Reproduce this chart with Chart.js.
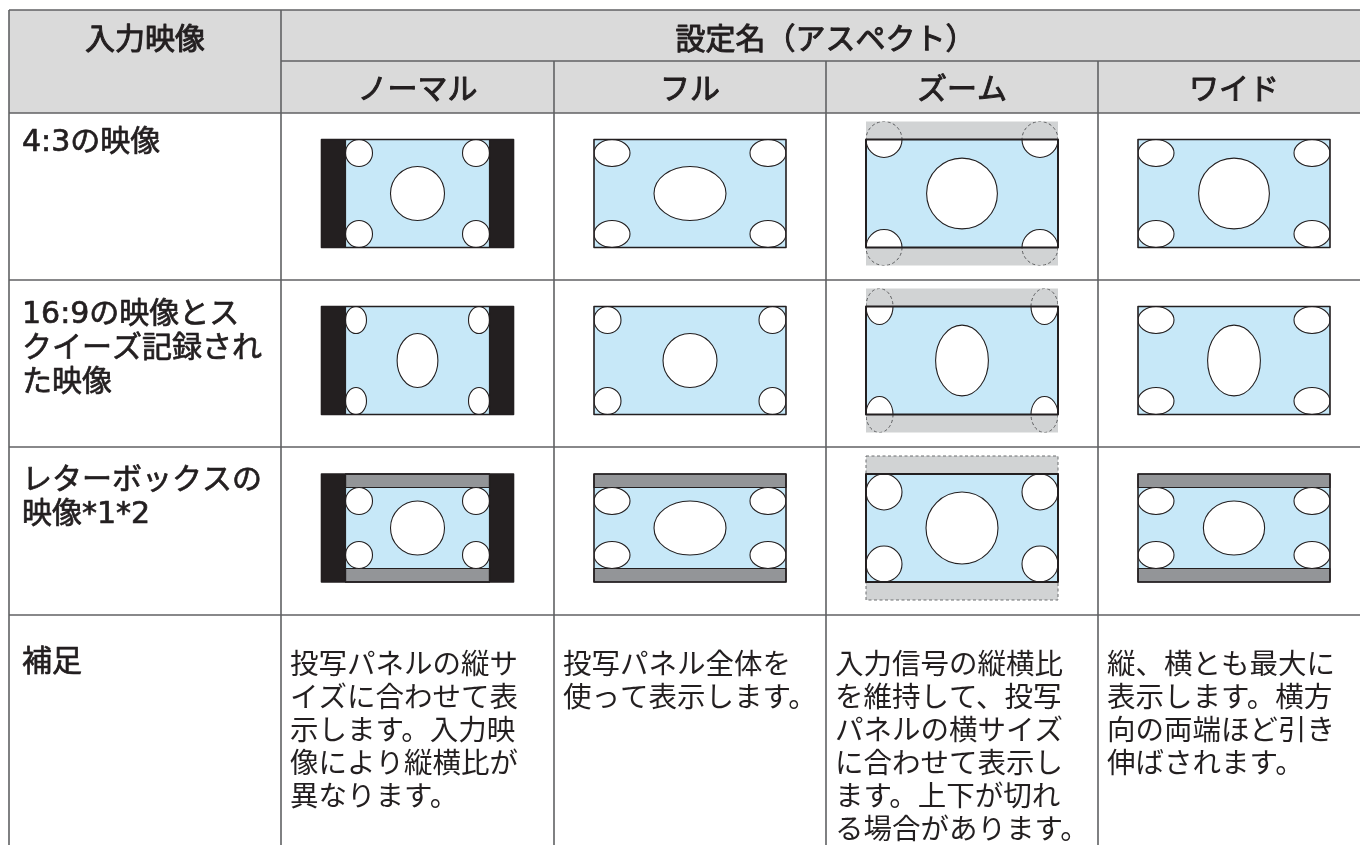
<!DOCTYPE html>
<html lang="ja">
<head>
<meta charset="utf-8">
<title>アスペクト設定</title>
<script src="https://cdn.jsdelivr.net/npm/chart.js@4.4.1/dist/chart.umd.min.js"></script>
<style>
  html, body { margin: 0; padding: 0; background: #fff; }
  #wrap { width: 1360px; height: 845px; overflow: hidden; }
</style>
</head>
<body>
<div id="wrap"><canvas id="aspectChart" width="1360" height="845"></canvas></div>
<script>
const headerInput = '入力映像';
const headerSetting = '設定名（アスペクト）';
const modeNames = ['ノーマル', 'フル', 'ズーム', 'ワイド'];
const inputLabels = [
    ['4:3の映像'],
    ['16:9の映像とス', 'クイーズ記録され', 'た映像'],
    ['レターボックスの', '映像*1*2']
];
const noteLabel = '補足';
const noteLines = [
    ['投写パネルの縦サ', 'イズに合わせて表', '示します。入力映', '像により縦横比が', '異なります。'],
    ['投写パネル全体を', '使って表示します。'],
    ['入力信号の縦横比', 'を維持して、投写', 'パネルの横サイズ', 'に合わせて表示し', 'ます。上下が切れ', 'る場合があります。'],
    ['縦、横とも最大に', '表示します。横方', '向の両端ほど引き', '伸ばされます。']
];

// picture sizes in panel units (panel = 16 x 9); one row per input, one column per mode
const pictureW = [[12, 16, 16, 16], [12, 16, 16, 16], [12, 16, 16, 16]];
const pictureH = [[9, 9, 12, 9], [9, 9, 12, 9], [9, 9, 12, 9]];
const letterboxBand = [[0, 0, 0, 0], [0, 0, 0, 0], [1.125, 1.125, 1.5, 1.125]];
// corner and centre ellipses (width / height in panel units)
const cornerW = [[2.25, 3, 3, 3], [1.75, 2.25, 2.25, 3], [2.25, 3, 3, 3]];
const cornerH = [[2.25, 2.25, 3, 2.25], [2.25, 2.25, 3, 2.25], [2.25, 2.25, 3, 2.25]];
const centerW = [[4.5, 6, 5.9, 5.9], [3.4, 4.5, 4.4, 4.4], [4.5, 6, 6, 5.1]];
const centerH = [[4.5, 4.5, 5.9, 5.9], [4.5, 4.5, 5.9, 5.9], [4.5, 4.5, 6, 4.5]];

// table layout (in chart units = page pixels)
const colEdges = [9, 281, 554, 826, 1098, 1370];
const rowEdges = [10, 61, 113, 280, 447, 615, 900];
const UNIT = 12;

const FONT = '"Noto Sans CJK JP", "Noto Sans", sans-serif';
const LABEL_FONT = '"DejaVu Sans", "Noto Sans CJK JP", sans-serif';
const LINE = '#606163';

function box(cx, cy, w, h) {
    return { l: cx - w / 2, r: cx + w / 2, t: cy - h / 2, b: cy + h / 2 };
}

const tablePlugin = {
    id: 'aspectTable',
    afterDraw(chart) {
        const ctx = chart.ctx;
        const xs = chart.scales.x;
        const ys = chart.scales.y;
        const X = v => xs.getPixelForValue(v);
        const Y = v => ys.getPixelForValue(v);

        function rectPath(b) {
            ctx.rect(X(b.l), Y(b.t), X(b.r) - X(b.l), Y(b.b) - Y(b.t));
        }
        function fillBox(b, color) {
            ctx.beginPath();
            rectPath(b);
            ctx.fillStyle = color;
            ctx.fill();
        }
        function strokeBox(b, color, width, dash) {
            ctx.beginPath();
            rectPath(b);
            ctx.setLineDash(dash || []);
            ctx.strokeStyle = color;
            ctx.lineWidth = width;
            ctx.stroke();
            ctx.setLineDash([]);
        }
        function line(x1, y1, x2, y2) {
            ctx.beginPath();
            ctx.moveTo(X(x1), Y(y1));
            ctx.lineTo(X(x2), Y(y2));
            ctx.strokeStyle = LINE;
            ctx.lineWidth = 1.6;
            ctx.stroke();
        }
        // heavy > 0 thickens the regular face a little (no medium weight installed)
        function text(str, x, cy, size, align, heavy, family) {
            ctx.font = size + 'px ' + (family || FONT);
            ctx.fillStyle = '#231f20';
            ctx.textAlign = align;
            ctx.textBaseline = 'alphabetic';
            ctx.fillText(str, X(x), Y(cy + size * 0.38));
            if (heavy) {
                ctx.strokeStyle = '#231f20';
                ctx.lineWidth = heavy;
                ctx.lineJoin = 'round';
                ctx.strokeText(str, X(x), Y(cy + size * 0.38));
            }
        }
        function ellipsePath(e) {
            ctx.beginPath();
            ctx.ellipse(X(e.x), Y(e.y), Math.abs(X(e.x + e.rx) - X(e.x)), Math.abs(Y(e.y + e.ry) - Y(e.y)), 0, 0, Math.PI * 2);
        }

        function drawDiagram(cx, cy, r, m) {
            const panel = box(cx, cy, 16 * UNIT, 9 * UNIT);
            const pic = box(cx, cy, pictureW[r][m] * UNIT, pictureH[r][m] * UNIT);
            const band = letterboxBand[r][m] * UNIT;
            const content = { l: pic.l, r: pic.r, t: pic.t + band, b: pic.b - band };
            const overflow = pic.b - pic.t > panel.b - panel.t + 0.1;
            const sideBars = pic.r - pic.l < panel.r - panel.l - 0.1;

            if (sideBars) fillBox(panel, '#231f20');
            if (overflow) {
                fillBox(pic, '#d1d3d4');
                if (band > 0) strokeBox(pic, '#6d6e71', 1, [3, 2.5]);
            }
            const visible = {
                l: Math.max(content.l, panel.l), r: Math.min(content.r, panel.r),
                t: Math.max(content.t, panel.t), b: Math.min(content.b, panel.b)
            };
            fillBox(visible, '#c7e8f8');
            if (!overflow && band > 0) {
                const top = { l: pic.l, r: pic.r, t: pic.t, b: content.t };
                const bottom = { l: pic.l, r: pic.r, t: content.b, b: pic.b };
                fillBox(top, '#939598');
                fillBox(bottom, '#939598');
                strokeBox(top, '#231f20', 1.2);
                strokeBox(bottom, '#231f20', 1.2);
            }

            const cw = cornerW[r][m] * UNIT / 2, ch = cornerH[r][m] * UNIT / 2;
            const ellipses = [
                { x: content.l + cw, y: content.t + ch, rx: cw, ry: ch },
                { x: content.r - cw, y: content.t + ch, rx: cw, ry: ch },
                { x: content.l + cw, y: content.b - ch, rx: cw, ry: ch },
                { x: content.r - cw, y: content.b - ch, rx: cw, ry: ch },
                { x: (content.l + content.r) / 2, y: (content.t + content.b) / 2,
                  rx: centerW[r][m] * UNIT / 2, ry: centerH[r][m] * UNIT / 2 }
            ];

            ctx.save();
            ctx.beginPath();
            rectPath(panel);
            ctx.clip();
            ellipses.forEach(e => {
                ellipsePath(e);
                ctx.fillStyle = '#ffffff';
                ctx.fill();
                ctx.strokeStyle = '#231f20';
                ctx.lineWidth = 1.1;
                ctx.stroke();
            });
            ctx.restore();

            if (overflow) {
                ctx.save();
                ctx.beginPath();
                rectPath(pic);
                rectPath(panel);
                ctx.clip('evenodd');
                ctx.setLineDash([3, 2.5]);
                ellipses.forEach(e => {
                    ellipsePath(e);
                    ctx.strokeStyle = '#58595b';
                    ctx.lineWidth = 1;
                    ctx.stroke();
                });
                ctx.restore();
            }

            if (sideBars) strokeBox(pic, '#231f20', 1.2);
            strokeBox(panel, '#231f20', overflow ? 2 : 1.6);
        }

        ctx.save();
        // header background
        fillBox({ l: colEdges[0], r: colEdges[5], t: rowEdges[0], b: rowEdges[2] }, '#dadada');

        // grid lines
        line(colEdges[0], rowEdges[0], colEdges[5], rowEdges[0]);
        line(colEdges[1], rowEdges[1], colEdges[5], rowEdges[1]);
        for (let i = 2; i < 6; i++) line(colEdges[0], rowEdges[i], colEdges[5], rowEdges[i]);
        line(colEdges[0], rowEdges[0], colEdges[0], rowEdges[6]);
        line(colEdges[1], rowEdges[0], colEdges[1], rowEdges[6]);
        for (let c = 2; c < 5; c++) line(colEdges[c], rowEdges[1], colEdges[c], rowEdges[6]);

        // header text
        const mid = i => (colEdges[i] + colEdges[i + 1]) / 2;
        text(headerInput, mid(0), 38, 30, 'center', 1.0);
        text(headerSetting, (colEdges[1] + colEdges[5]) / 2, 38, 30, 'center', 1.0);
        modeNames.forEach((name, m) => text(name, mid(m + 1), 88, 30, 'center', 1.0));

        // input rows
        const labelTop = [140, 312, 478];
        inputLabels.forEach((lines, r) => {
            lines.forEach((s, k) => text(s, colEdges[0] + 13, labelTop[r] + k * 34, 30, 'left', 0.7, LABEL_FONT));
            const cy = (rowEdges[r + 2] + rowEdges[r + 3]) / 2 - 3;
            modeNames.forEach((_, m) => drawDiagram(mid(m + 1), cy, r, m));
        });

        // notes row
        text(noteLabel, colEdges[0] + 13, 660, 30, 'left', 0.7);
        noteLines.forEach((lines, m) => {
            lines.forEach((s, k) => text(s, colEdges[m + 1] + 9, 663 + k * 33, 28.5, 'left', 0));
        });
        ctx.restore();
    }
};

function build() {
    const ctx = document.getElementById('aspectChart').getContext('2d');
    new Chart(ctx, {
        type: 'scatter',
        data: { datasets: [{ data: [] }] },
        options: {
            responsive: false,
            animation: false,
            devicePixelRatio: 1,
            layout: { padding: 0 },
            events: [],
            plugins: { legend: { display: false }, tooltip: { enabled: false } },
            scales: {
                x: { type: 'linear', min: 0, max: 1360, display: false },
                y: { type: 'linear', min: 0, max: 845, reverse: true, display: false }
            }
        },
        plugins: [tablePlugin]
    });
}

Promise.all([
    document.fonts.load('30px "Noto Sans CJK JP"', '入力映像投写パネル'),
    document.fonts.load('30px "DejaVu Sans"', '4:3*12')
]).then(build, build);
</script>
</body>
</html>
